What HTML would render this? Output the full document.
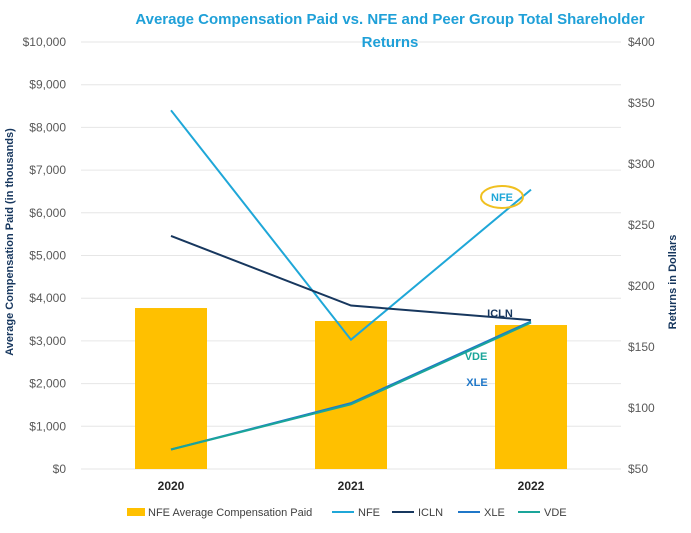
<!DOCTYPE html>
<html><head><meta charset="utf-8"><style>
body{margin:0;background:#fff;font-family:"Liberation Sans",sans-serif;}
svg text{font-family:"Liberation Sans",sans-serif;}
</style></head><body>
<svg id="c" width="691" height="528"></svg>
<script>
const categories=["2020","2021","2022"];
const compValues=[3770,3466,3372];
const nfe=[344,156,279];
const icln=[241,184,172];
const xle=[66,104,171];
const vde=[66,103,170];
const leftTicks=[0,1000,2000,3000,4000,5000,6000,7000,8000,9000,10000];
const rightTicks=[50,100,150,200,250,300,350,400];
const NS="http://www.w3.org/2000/svg";
const svg=document.getElementById('c');
const x0=81,x1=621,yB=469,yT=42;
const xc=i=>x0+(x1-x0)*(i+0.5)/categories.length;
const yL=v=>yB-(yB-yT)*v/10000;
const yR=v=>yB-(yB-yT)*(v-50)/350;
function mk(t,a,txt){const e=document.createElementNS(NS,t);for(const k in a)e.setAttribute(k,a[k]);if(txt!=null)e.textContent=txt;svg.appendChild(e);return e;}
leftTicks.forEach(v=>{
 const g=mk('line',{x1:x0,x2:x1,y1:yL(v),y2:yL(v),stroke:'#e6e6e6','stroke-width':1});
 
 
 const t=mk('text',{x:66,y:yL(v)+4,'text-anchor':'end','font-size':12,fill:'#595959'},'$'+v.toLocaleString('en-US'));
 
 
});
rightTicks.forEach(v=>{
 const t=mk('text',{x:628,y:yR(v)+4,'text-anchor':'start','font-size':12,fill:'#595959'},'$'+v);
 
 
});
compValues.forEach((v,i)=>{
 const b=mk('rect',{x:xc(i)-36,y:yL(v),width:72,height:yB-yL(v),fill:'#ffc000'});
 
 
 const t=mk('text',{x:xc(i),y:490,'text-anchor':'middle','font-size':12,'font-weight':'bold',fill:'#262626'},categories[i]);
 
 
});
function line(arr,color,name){
 const p=mk('polyline',{points:arr.map((v,i)=>xc(i)+','+yR(v)).join(' '),fill:'none',stroke:color,'stroke-width':2});
 
 
}
line(nfe,'#1fa7d8','nfe-line');
line(icln,'#17375e','icln-line');
line(xle,'#1f77c8','xle-line');
line(vde,'#1aa59a','vde-line');
let e=mk('ellipse',{cx:502,cy:197,rx:21,ry:11,fill:'none',stroke:'#f0c020','stroke-width':2});


[['NFE',502,201,'#1fa7d8'],['ICLN',500,317,'#17375e'],['VDE',476,360,'#1aa59a'],['XLE',477,386,'#1f77c8']].forEach(a=>{
 const t=mk('text',{x:a[1],y:a[2],'text-anchor':'middle','font-size':11,'font-weight':'bold',fill:a[3]},a[0]);
 
 
});
let t=mk('text',{x:390,y:24,'text-anchor':'middle','font-size':15,'font-weight':'bold',fill:'#1fa0d8'},'Average Compensation Paid vs. NFE and Peer Group Total Shareholder');


t=mk('text',{x:390,y:47,'text-anchor':'middle','font-size':15,'font-weight':'bold',fill:'#1fa0d8'},'Returns');


t=mk('text',{x:0,y:0,transform:'translate(13,242) rotate(-90)','text-anchor':'middle','font-size':11,'font-weight':'bold',fill:'#17375e'},'Average  Compensation Paid (in thousands)');


t=mk('text',{x:0,y:0,transform:'translate(676,282) rotate(-90)','text-anchor':'middle','font-size':11,'font-weight':'bold',fill:'#17375e'},'Returns in Dollars');


const legend=[['rect','#ffc000','NFE Average Compensation Paid',127],['line','#1fa7d8','NFE',332],['line','#17375e','ICLN',392],['line','#1f77c8','XLE',458],['line','#1aa59a','VDE',518]];
legend.forEach(l=>{
 let m;
 if(l[0]==='rect')m=mk('rect',{x:l[3],y:508,width:18,height:8,fill:l[1]});
 else m=mk('line',{x1:l[3],x2:l[3]+22,y1:512,y2:512,stroke:l[1],'stroke-width':2});
 
 
 const tx=mk('text',{x:l[3]+(l[0]==='rect'?21:26),y:516,'font-size':11,fill:'#404040'},l[2]);
 
 
});
</script>
</body></html>
